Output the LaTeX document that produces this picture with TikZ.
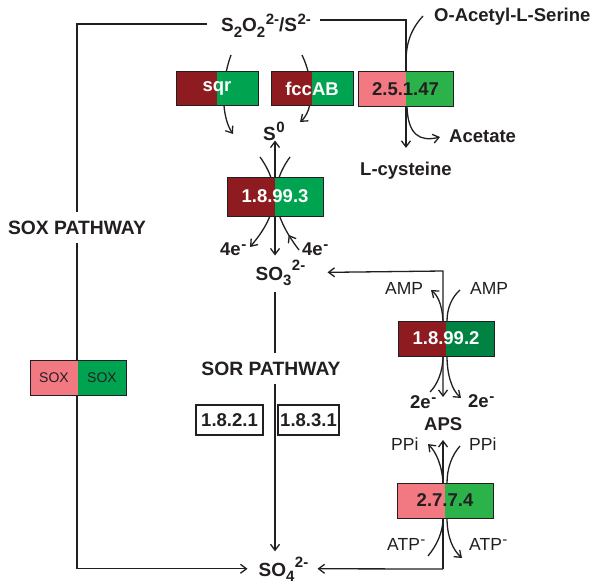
\documentclass[tikz,border=0pt]{standalone}
\usepackage{fontspec}
\setmainfont{Liberation Sans}
\usetikzlibrary{arrows.meta,backgrounds,decorations.markings}
\pgfdeclarelayer{bgzero}
\pgfsetlayers{bgzero,background,main}
\definecolor{dred}{RGB}{142,27,32}
\definecolor{gA}{RGB}{0,163,80}
\definecolor{gB}{RGB}{0,130,66}
\definecolor{pk}{RGB}{242,120,130}
\definecolor{gL}{RGB}{44,178,75}
\definecolor{ink}{RGB}{35,31,32}
\newcommand\sbx[2][6pt]{\raisebox{-#1}{\fontsize{15}{15}\selectfont #2}}
\newcommand\spx[2][7pt]{\kern0.5pt\raisebox{#1}{\fontsize{15}{15}\selectfont #2}}
\begin{document}
\begin{tikzpicture}[x=1pt,y=-1pt,
  every node/.style={text=ink},
  lbl/.style={font=\fontsize{18.5}{20}\selectfont\bfseries, inner sep=0pt, anchor=base west},
  chem/.style={font=\fontsize{19}{20}\selectfont\bfseries, inner sep=0pt, anchor=base west},
  rlbl/.style={font=\fontsize{17.5}{19}\selectfont, inner sep=0pt, anchor=base west},
  ecbox/.style n args={4}{draw=ink, line width=1pt, minimum width=#1, minimum height=#2,
    inner sep=0pt, font=\fontsize{18.5}{20}\selectfont\bfseries,
    path picture={\fill[#3] (path picture bounding box.south west) rectangle (path picture bounding box.north);
                  \fill[#4] (path picture bounding box.south) rectangle (path picture bounding box.north east);}},
  pbox/.style={draw=ink, line width=1.2pt, minimum height=30pt, inner sep=0pt, font=\fontsize{18.5}{20}\selectfont\bfseries},
  pathlbl/.style={font=\fontsize{19.3}{20}\selectfont\bfseries, inner xsep=0pt, inner ysep=9pt, text height=13pt, text depth=0pt},
  conn/.style={draw=ink, line width=1.3pt},
  arr/.style={-{Straight Barb[length=6pt,width=9pt]}},
  midrev/.style={postaction={decorate, decoration={markings, mark=at position #1 with {\arrowreversed{Straight Barb[length=6pt,width=9pt]}}}}}
]
\begin{pgfonlayer}{bgzero}
\fill[white] (0,0) rectangle (593,583);
\end{pgfonlayer}
\useasboundingbox (0,0) rectangle (593,583);

% enzyme boxes
\node[ecbox={82pt}{33pt}{dred}{gA}, text=white] (sqr) at (217,88.5) {sqr};
\node[ecbox={82pt}{33pt}{dred}{gA}, text=white] (fcc) at (312,88.5) {fccAB};
\node[ecbox={95pt}{35pt}{pk}{gL}] (e25) at (405.5,89) {2.5.1.47};
\node[ecbox={96pt}{39pt}{dred}{gA}, text=white] (e3) at (275,196.5) {1.8.99.3};
\node[ecbox={96pt}{35pt}{dred}{gB}, text=white] (e2) at (446,338.5) {1.8.99.2};
\node[ecbox={96pt}{35pt}{pk}{gL}] (e4) at (445,500.5) {2.7.7.4};
\node[ecbox={96pt}{35pt}{pk}{gA}, font=\fontsize{14}{16}\selectfont] (sox) at (78,377.5) {SOX\hspace{18.4pt}SOX};
\node[pbox, minimum width=67pt] (b1) at (229.5,420) {1.8.2.1};
\node[pbox, minimum width=61pt] (b2) at (308.5,420) {1.8.3.1};

% labels
\node[chem] (s2o2) at (221,32) {S\sbx{2}O\sbx{2}\spx[7.5pt]{2-}/S\spx[7.5pt]{2-}};
\node[lbl] (oas) at (434,22) {O-Acetyl-L-Serine};
\node[lbl] (acet) at (449,142) {Acetate};
\node[lbl] (lcys) at (360,175) {L-cysteine};
\node[chem] (s0) at (263,140) {S\spx[8pt]{0}};
\node[chem] (so3) at (255.5,280) {SO\sbx[5pt]{3}\spx[10pt]{2-}};
\node[chem] (so4) at (258.5,576) {SO\sbx[5pt]{4}\spx[9pt]{2-}};
\node[pathlbl] (soxlab) at (77,227.5) {SOX PATHWAY};
\node[pathlbl] (sorlab) at (271,368.5) {SOR PATHWAY};
\node[lbl] (el1) at (220,255) {4e\spx[6pt]{-}};
\node[lbl] (el2) at (302,255) {4e\spx[6pt]{-}};
\node[rlbl] (amp1) at (385,294) {AMP};
\node[rlbl] (amp2) at (470,294) {AMP};
\node[lbl] (tw1) at (410,408) {2e\spx[6pt]{-}};
\node[lbl] (tw2) at (468,407) {2e\spx[6pt]{-}};
\node[lbl] (aps) at (424,430) {APS};
\node[rlbl] (ppi1) at (391,450) {PPi};
\node[rlbl] (ppi2) at (469,450) {PPi};
\node[rlbl] (atp1) at (387,550) {ATP\spx[6pt]{-}};
\node[rlbl] (atp2) at (469,550) {ATP\spx[6pt]{-}};

\begin{pgfonlayer}{background}
% SOX pathway
\draw[conn] ([xshift=-14pt,yshift=2pt]s2o2.west) -| (soxlab.north);
\draw[conn,arr] (soxlab.south) |- ([xshift=-11pt]so4.west);
% to L-cysteine
\draw[conn,arr] ([xshift=9pt,yshift=6pt]s2o2.east) -| ([yshift=13.5pt]lcys.north);
\draw[conn] (423,16) .. controls (410,30) and (406,45) .. (406,62);
\draw[conn,arr] (407,107) .. controls (408,135) and (420,142) .. (440,137);
% sqr, fccAB
\draw[conn,arr] (231,55) .. controls (220,85) and (222,118) .. (233,134);
\draw[conn,arr] (302,55) .. controls (314,80) and (314,110) .. (300,122);
% 1.8.99.3
\draw[conn,arr] (e3.north) -- ++(0,-36);
\draw[conn,arr] (e3.south) -- ++(0,39);
\draw[conn,arr] (260,157) .. controls (280,185) and (280,212) .. (250,247);
\draw[conn,midrev=0.82] (290,157) .. controls (270,185) and (270,212) .. (299,250);
% SOR pathway
\draw[conn] (so3.south -| e3.south) ++(0,7) -- (sorlab.north -| e3.south);
\draw[conn,arr] (sorlab.south -| e3.south) -- ([yshift=5pt]so4.north -| e3.south);
% 1.8.99.2
\draw[conn,{Straight Barb[length=6pt,width=9pt]}-{Straight Barb[length=6pt,width=9pt]}] ([xshift=22pt]so3.east) -- (443,271) -- (443,397);
\draw[conn,arr] (443,321) .. controls (442,303) and (437,295) .. (431,290);
\draw[conn] (460,290) .. controls (452,297) and (447,308) .. (447,321);
\draw[conn] (443,356) .. controls (443,372) and (437,385) .. (430,392);
\draw[conn,arr] (447,356) .. controls (447,375) and (452,390) .. (461,398);
% 2.7.7.4
\draw[conn,arr] (443,569) -- (443,440);
\draw[conn,arr] (443,569) -- ([xshift=9pt]so4.east);
\draw[conn,arr] (443,483) .. controls (442,465) and (436,452) .. (428,444);
\draw[conn] (460,446) .. controls (452,455) and (447,468) .. (447,483);
\draw[conn] (428,556) .. controls (437,545) and (443,532) .. (443,518);
\draw[conn,arr] (447,518) .. controls (447,537) and (453,550) .. (462,558);
\end{pgfonlayer}
\end{tikzpicture}
\end{document}
